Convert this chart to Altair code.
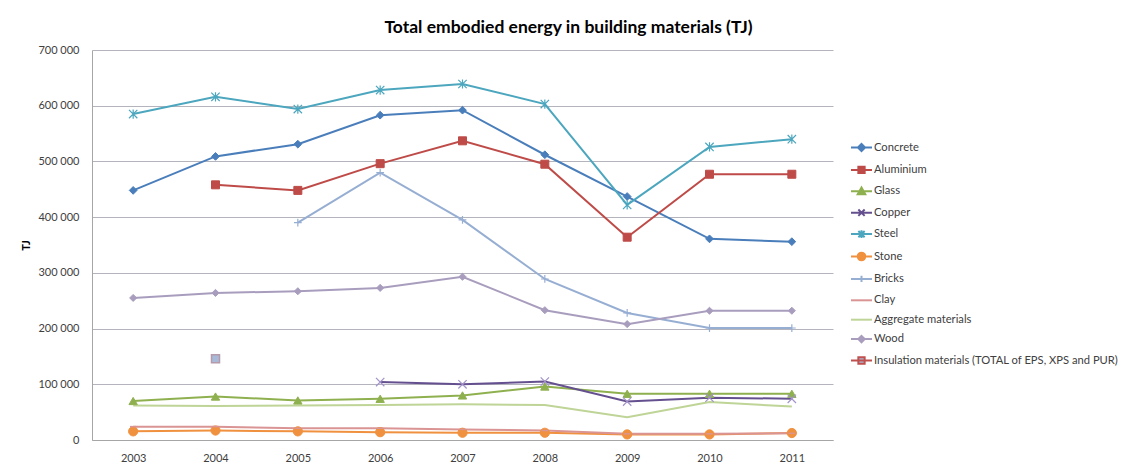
import altair as alt
import pandas as pd

years = [2003, 2004, 2005, 2006, 2007, 2008, 2009, 2010, 2011]
series_names = [
    "Concrete", "Aluminium", "Glass", "Copper", "Steel", "Stone", "Bricks",
    "Clay", "Aggregate materials", "Wood",
    "Insulation materials (TOTAL of EPS, XPS and PUR)",
]

concrete = [448000, 509000, 531000, 583000, 592000, 512000, 437000, 361000, 356000]
aluminium = [None, 458000, 448000, 496000, 537000, 495000, 364000, 477000, 477000]
glass = [70000, 78000, 71000, 74000, 80000, 96000, 83000, 83000, 83000]
copper = [None, None, None, 104000, 100000, 105000, 69000, 76000, 74000]
steel = [585000, 616000, 594000, 628000, 639000, 603000, 422000, 526000, 540000]
stone = [15500, 17000, 15500, 14000, 13000, 13000, 10000, 10000, 12500]
bricks = [None, None, 390000, 480000, 395000, 289000, 228000, 201000, 201000]
clay = [24000, 24000, 21000, 21000, 19000, 17000, 11000, 11000, 12000]
aggregate = [62000, 61000, 62000, 63000, 64000, 63000, 41000, 68000, 60000]
wood = [255000, 264000, 267000, 273000, 293000, 233000, 208000, 232000, 232000]
insulation = [None, 146000, None, None, None, None, None, None, None]

all_values = [concrete, aluminium, glass, copper, steel, stone, bricks,
              clay, aggregate, wood, insulation]

y_ticks = [0, 100000, 200000, 300000, 400000, 500000, 600000, 700000]

line_colors = ["#4A7EBB", "#BE4B48", "#8FB04F", "#65508F", "#4BA6BE", "#F0913F",
               "#97AED3", "#DA9494", "#BFD497", "#A99DBE", "#C0504D"]
fill_colors = ["#4A7EBB", "#BE4B48", "#8FB04F", "#A393C8", "#4BA6BE", "#F0913F",
               "#97AED3", "#DA9494", "#BFD497", "#A99DBE", "#A9BAD8"]

# legend symbols: line segment plus marker (unit box -1..1)
legend_paths = [
    "M-1,0H1M0,-0.34L0.34,0L0,0.34L-0.34,0Z",
    "M-1,0H1M-0.3,-0.3H0.3V0.3H-0.3Z",
    "M-1,0H1M0,-0.36L0.36,0.28H-0.36Z",
    "M-1,0H1M-0.3,-0.3L0.3,0.3M-0.3,0.3L0.3,-0.3",
    "M-1,0H1M-0.3,-0.3L0.3,0.3M-0.3,0.3L0.3,-0.3M0,-0.36V0.36",
    "M-1,0H1M-0.36,0A0.36,0.36,0,1,0,0.36,0A0.36,0.36,0,1,0,-0.36,0Z",
    "M-1,0H1M0,-0.3V0.3",
    "M-1,0H1",
    "M-1,0H1",
    "M-1,0H1M0,-0.3L0.3,0L0,0.3L-0.3,0Z",
    "M-1,0H1M-0.3,-0.3H0.3V0.3H-0.3Z",
]

rows = []
for name, vals in zip(series_names, all_values):
    for yr, v in zip(years, vals):
        if v is not None:
            rows.append({"year": str(yr), "series": name, "value": v})
df = pd.DataFrame(rows)

FONT = "Lato"
TXT = "#404040"

x_enc = alt.X(
    "year:O",
    sort=[str(y) for y in years],
    scale=alt.Scale(type="point", padding=0.5),
    axis=alt.Axis(title=None, labelAngle=0, ticks=False, grid=False,
                  labelPadding=12, domainColor="#A6A6A6"),
)
y_enc = alt.Y(
    "value:Q",
    scale=alt.Scale(domain=[0, 700000]),
    axis=alt.Axis(values=y_ticks, ticks=False, grid=True, gridColor="#B4B4BC",
                  domainColor="#A6A6A6", labelPadding=13,
                  labelExpr="replace(format(datum.value, ',d'), ',', ' ')",
                  title="TJ", titleX=-61, titleY=195, titleFontSize=11,
                  titleFontWeight="bold", titleColor="#000000"),
)

# line colour scale (listed in reverse so its hidden legend stays separate)
line_scale = alt.Scale(domain=series_names[::-1], range=line_colors[::-1])
stroke_scale = alt.Scale(domain=series_names, range=line_colors)
fill_scale = alt.Scale(domain=series_names, range=fill_colors)
shape_scale = alt.Scale(domain=series_names, range=legend_paths)

lines = alt.Chart(df).mark_line(strokeWidth=2).encode(
    x=x_enc, y=y_enc,
    color=alt.Color("series:N", scale=line_scale, legend=None),
)

X_PATH = "M-1,-1L1,1M-1,1L1,-1"
AST_PATH = "M-1,-1L1,1M-1,1L1,-1M0,-1.1V1.1"
PLUS_PATH = "M-1,0H1M0,-1V1"
DASH_PATH = "M-1,0H1"

marker_specs = [
    ("Concrete", "diamond", 60, True, "#4A7EBB", "#4A7EBB", 1),
    ("Aluminium", "square", 64, True, "#BE4B48", "#BE4B48", 1),
    ("Glass", "triangle-up", 70, True, "#8FB04F", "#8FB04F", 1),
    ("Copper", X_PATH, 70, False, None, "#A393C8", 1.2),
    ("Steel", AST_PATH, 70, False, None, "#4BA6BE", 1.2),
    ("Stone", "circle", 85, True, "#F0913F", "#F0913F", 1),
    ("Bricks", PLUS_PATH, 60, False, None, "#97AED3", 1.2),
    ("Clay", DASH_PATH, 40, False, None, "#DA9494", 1.5),
    ("Wood", "diamond", 50, True, "#A99DBE", "#A99DBE", 1),
    ("Insulation materials (TOTAL of EPS, XPS and PUR)", "square", 64, True,
     "#A9BAD8", "#B49AAA", 1.5),
]

markers = []
for name, shp, sz, filled, fc, sc, sw in marker_specs:
    kw = dict(shape=shp, size=sz, filled=filled, stroke=sc, strokeWidth=sw, opacity=1)
    if filled:
        kw["fill"] = fc
    markers.append(
        alt.Chart(df).transform_filter(alt.datum.series == name)
        .mark_point(**kw).encode(x=x_enc, y=y_enc)
    )

leg = alt.Legend(
    title=None, orient="none", legendX=758, legendY=86, symbolSize=441,
    symbolStrokeWidth=2, labelFont=FONT, labelFontSize=11.2, labelColor=TXT,
    labelOffset=1, rowPadding=2.4, padding=0, symbolOpacity=1, labelLimit=400,
)

# invisible marks (size 0) that only carry the legend
legend_layer = alt.Chart(df).mark_point(filled=True, size=0, strokeWidth=0).encode(
    x=x_enc, y=y_enc,
    fill=alt.Fill("series:N", scale=fill_scale, legend=leg),
    stroke=alt.Stroke("series:N", scale=stroke_scale, legend=leg),
    shape=alt.Shape("series:N", scale=shape_scale, legend=leg),
)

chart = alt.layer(lines, *markers, legend_layer).properties(
    width=741,
    height=390,
    autosize=alt.AutoSizeParams(type="none"),
    padding={"left": 84, "top": 42, "right": 285, "bottom": 22},
    title=alt.TitleParams(
        "Total embodied energy in building materials (TJ)",
        font=FONT, fontSize=17.5, fontWeight="bold", color="#000000",
        anchor="middle", dy=-4, dx=106,
    ),
).configure_view(stroke=None).configure_axis(
    labelFont=FONT, labelFontSize=11, labelColor=TXT, titleFont=FONT,
)

chart.save("out.html", embed_options={"renderer": "svg", "actions": False})
